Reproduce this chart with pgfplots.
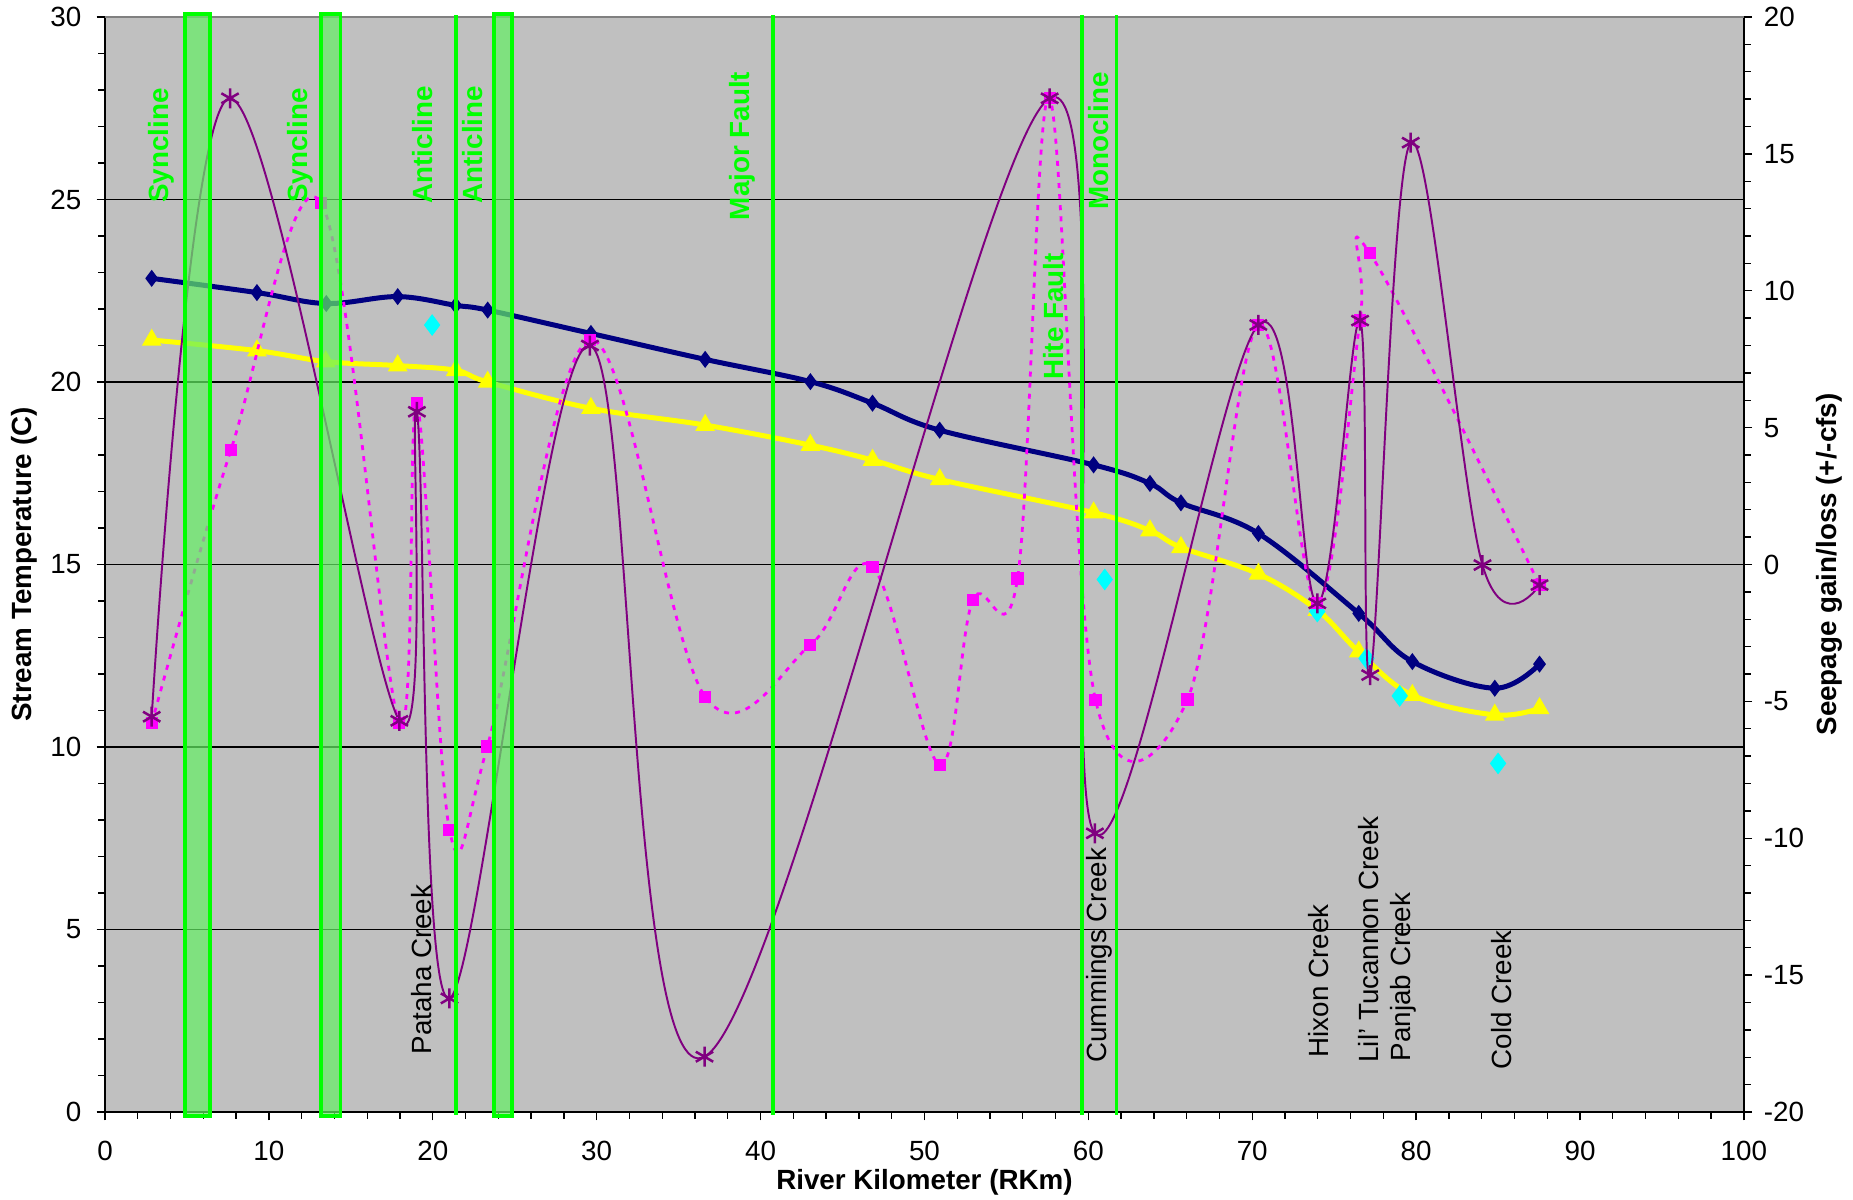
\documentclass[border=0pt]{standalone}
\usepackage{pgfplots}
\pgfplotsset{compat=1.18}
\usepackage{fontspec}
\setmainfont{Liberation Sans}
\definecolor{bg}{RGB}{192,192,192}
\definecolor{navy}{RGB}{0,0,128}
\definecolor{yel}{RGB}{255,255,0}
\definecolor{cyn}{RGB}{0,255,255}
\definecolor{purp}{RGB}{128,0,128}
\definecolor{mag}{RGB}{255,0,255}
\definecolor{lg}{RGB}{0,255,0}
\definecolor{bandfill}{RGB}{100,240,100}
\begin{document}
\fontsize{10}{12}\selectfont
\begin{tikzpicture}
\useasboundingbox (-37.8pt,-31.32pt) rectangle (629.28pt,400.32pt);
\pgfplotsset{
  common/.style={
    scale only axis, width=590pt, height=394.2pt,
    xmin=0, xmax=100, at={(0,0)}, anchor=south west,
    tick label style={font=\fontsize{10}{12}\selectfont},
    /pgf/number format/assume math mode=true,
    tick align=outside, major tick length=3pt, minor tick length=2.4pt,
    tick style={black, line width=0.5pt},
  }
}
\begin{axis}[common,
  ymin=0, ymax=30,
  axis x line*=bottom, axis y line*=left,
  axis line style={black, line width=0.8pt},
  xtick={0,10,...,100}, minor x tick num=4,
  ytick={0,5,...,30}, minor y tick num=4,
  ymajorgrids, major grid style={black, line width=0.4pt},
  axis background/.style={fill=bg},
  xticklabel shift=4pt,
  yticklabel shift=2pt,
]
\addplot[navy, line width=1.8pt, smooth, tension=0.6, mark=diamond*, mark size=1.6pt, mark options={solid}] coordinates {
(2.85,22.84) (9.27,22.45) (13.5,22.15) (17.86,22.34) (21.4,22.1) (23.35,21.97) (29.65,21.33) (36.62,20.62) (43.04,20.01) (46.83,19.42) (50.93,18.68) (60.32,17.73) (63.76,17.22) (65.65,16.69) (70.38,15.85) (76.5,13.66) (79.77,12.34) (84.8,11.61) (87.53,12.27)
};
\addplot[yel, line width=1.8pt, smooth, tension=0.6, mark=triangle*, mark size=2.3pt, mark options={solid}] coordinates {
(2.85,21.15) (9.27,20.86) (13.47,20.56) (17.86,20.45) (21.4,20.32) (23.35,20.0) (29.65,19.28) (36.62,18.82) (43.04,18.27) (46.83,17.86) (50.93,17.33) (60.32,16.42) (63.76,15.93) (65.65,15.47) (70.38,14.74) (73.97,13.75) (76.5,12.61) (79.77,11.42) (84.8,10.88) (87.53,11.06)
};
\addplot[only marks, mark=diamond*, mark size=3.6pt, mark options={fill=cyn, draw=cyn}] coordinates {
(19.96,21.56) (61.0,14.59) (73.97,13.71) (76.97,12.43) (79.0,11.4) (85.0,9.55)
};
\end{axis}
\begin{axis}[common,
  ymin=-20, ymax=20,
  axis x line=none, axis y line*=right,
  axis line style={black, line width=0.8pt},
  ytick={-20,-15,...,20}, minor y tick num=4,
  yticklabel shift=0.7pt,
  clip=false,
]
\addplot[mag, line width=1pt, dash pattern=on 1.8pt off 2.2pt, smooth, tension=0.6, mark=square*, mark size=1.7pt, mark options={solid, fill=mag, draw=mag}] coordinates {
(2.85,-5.8) (7.68,4.18) (13.2,13.2) (17.96,-5.8) (19.03,5.89) (21.02,-9.7) (23.33,-6.65) (29.59,8.2) (36.62,-4.83) (43.04,-2.94) (46.83,-0.08) (50.93,-7.32) (52.95,-1.3) (55.68,-0.51) (57.64,17.03) (60.44,-4.95) (66.05,-4.93) (70.37,8.75) (73.97,-1.42) (76.58,8.91) (77.18,11.37) (87.53,-0.75)
};
\addplot[purp, line width=0.7pt, smooth, tension=0.6, mark=asterisk, mark size=3.6pt, mark options={solid, line width=0.9pt}] coordinates {
(2.85,-5.56) (7.63,17.03) (17.96,-5.71) (19.03,5.58) (21.02,-15.85) (29.59,8.0) (36.58,-17.98) (57.64,17.03) (60.4,-9.82) (70.37,8.75) (73.97,-1.42) (76.58,8.91) (77.2,-4.04) (79.67,15.41) (84.05,-0.02) (87.53,-0.75)
};
\end{axis}
\begin{axis}[common, ymin=0, ymax=30, hide axis, clip=false]
\draw[gray, line width=0.8pt] (axis cs:0,30) -- (axis cs:100,30);
\filldraw[fill=bandfill, fill opacity=0.7, draw=lg, line width=1.4pt] (axis cs:4.9,-0.1) rectangle (axis cs:6.41,30.08);
\filldraw[fill=bandfill, fill opacity=0.7, draw=lg, line width=1.4pt] (axis cs:13.2,-0.1) rectangle (axis cs:14.37,30.08);
\filldraw[fill=bandfill, fill opacity=0.7, draw=lg, line width=1.4pt] (axis cs:23.75,-0.1) rectangle (axis cs:24.84,30.08);
\draw[lg, line width=1.4pt] (axis cs:21.4,-0.08) -- (axis cs:21.4,30.05);
\draw[lg, line width=1.4pt] (axis cs:40.76,-0.08) -- (axis cs:40.76,30.05);
\draw[lg, line width=1.4pt] (axis cs:59.63,-0.08) -- (axis cs:59.63,30.05);
\draw[lg, line width=1.4pt] (axis cs:61.72,-0.08) -- (axis cs:61.72,30.05);
\tikzset{geo/.style={rotate=90, anchor=west, inner sep=0pt, text=lg, font=\bfseries\fontsize{10}{12}\selectfont},
         creek/.style={rotate=90, anchor=west, inner sep=0pt, text=black, font=\fontsize{10}{12}\selectfont}}
\node[geo] at (axis cs:3.43,24.9) {Syncline};
\node[geo] at (axis cs:11.9,24.9) {Syncline};
\node[geo] at (axis cs:19.4,24.88) {Anticline};
\node[geo] at (axis cs:22.43,24.88) {Anticline};
\node[geo] at (axis cs:38.87,24.42) {Major Fault};
\node[geo] at (axis cs:57.9,20.04) {Hite Fault};
\node[geo] at (axis cs:60.6,24.7) {Monocline};
\node[creek] at (axis cs:19.3,1.56) {Pataha Creek};
\node[creek] at (axis cs:60.65,1.34) {Cummings Creek};
\node[creek] at (axis cs:74.06,1.48) {Hixon Creek};
\node[creek] at (axis cs:77.09,1.34) {Lil’ Tucannon Creek};
\node[creek] at (axis cs:79.21,1.38) {Panjab Creek};
\node[creek] at (axis cs:85.2,1.15) {Cold Creek};
\end{axis}
\node[font=\bfseries\fontsize{10}{12}\selectfont] at (295pt,-25.2pt) {River Kilometer (RKm)};
\node[rotate=90, font=\bfseries\fontsize{10}{12}\selectfont] at (-29.2pt,197.1pt) {Stream Temperature (C)};
\node[rotate=90, font=\bfseries\fontsize{10}{12}\selectfont] at (620.6pt,197.1pt) {Seepage gain/loss (+/-cfs)};
\end{tikzpicture}
\end{document}
